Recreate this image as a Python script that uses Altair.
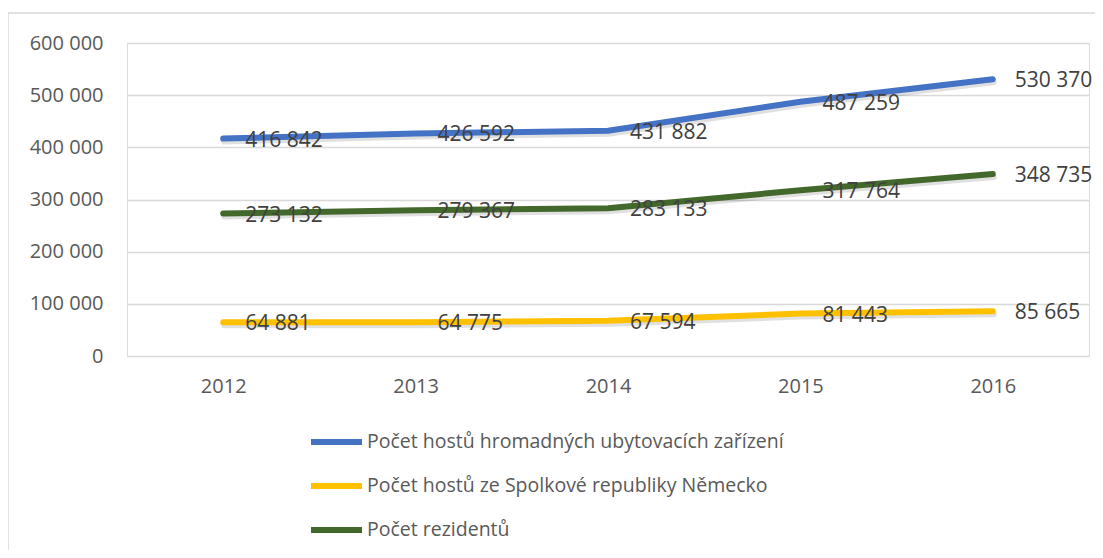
import altair as alt
import pandas as pd

years = ["2012", "2013", "2014", "2015", "2016"]
series_names = [
    "Počet hostů hromadných ubytovacích zařízení",
    "Počet hostů  ze Spolkové republiky Německo",
    "Počet rezidentů",
]
hosts_total = [416842, 426592, 431882, 487259, 530370]
hosts_germany = [64881, 64775, 67594, 81443, 85665]
residents = [273132, 279367, 283133, 317764, 348735]
colors = ["#4472C4", "#FFC000", "#43682B"]

rows = []
for name, vals in zip(series_names, [hosts_total, hosts_germany, residents]):
    for y, v in zip(years, vals):
        rows.append({"year": y, "series": name, "value": v})
df = pd.DataFrame(rows)

FONT = "Open Sans"

x_enc = alt.X(
    "year:N",
    scale=alt.Scale(paddingInner=0, paddingOuter=0),
    axis=alt.Axis(
        title=None, domain=False, ticks=False, grid=False, labelAngle=0,
        labelPadding=20, labelFontSize=20, labelColor="#595959", labelFont=FONT,
    ),
)
y_enc = alt.Y(
    "value:Q",
    scale=alt.Scale(domain=[0, 600000], nice=False),
    axis=alt.Axis(
        title=None, domain=False, ticks=False, values=[0, 100000, 200000, 300000, 400000, 500000, 600000],
        labelExpr="replace(format(datum.value, ','), ',', ' ')",
        labelPadding=24, labelFontSize=20, labelColor="#595959", labelFont=FONT,
        gridColor="#D9D9D9", gridWidth=1.5,
    ),
)
color_enc = alt.Color(
    "series:N",
    scale=alt.Scale(domain=series_names, range=colors),
    sort=series_names,
    legend=alt.Legend(
        title=None, orient="none", legendX=181, legendY=379, direction="vertical",
        symbolType="stroke", symbolSize=2600, symbolStrokeWidth=6,
        labelFontSize=19.5, labelColor="#595959", labelFont=FONT, labelOffset=2,
        rowPadding=4, clipHeight=40, padding=0, labelLimit=800,
    ),
)

base = alt.Chart(df)

shadow = base.mark_line(strokeWidth=6, strokeCap="round", color="#000000", opacity=0.12, yOffset=3, xOffset=1).encode(
    x=x_enc, y=y_enc, detail="series:N"
)
lines = base.mark_line(strokeWidth=6, strokeCap="round").encode(
    x=x_enc, y=y_enc, color=color_enc
)
labels = base.transform_calculate(
    lab="replace(format(datum.value, ','), ',', ' ')"
).mark_text(
    align="left", baseline="middle", dx=22, dy=2, fontSize=21, color="#404040", font=FONT
).encode(x=x_enc, y=y_enc, text="lab:N")

border = alt.Chart(pd.DataFrame({"a": [1]})).mark_rect(
    fill="transparent", stroke="#D9D9D9", strokeWidth=1.5
).encode(x=alt.value(-119), x2=alt.value(1100), y=alt.value(-30), y2=alt.value(700))

chart = alt.layer(border, shadow, lines, labels).properties(
    width=962, height=313,
    autosize=alt.AutoSizeParams(type="none"),
    padding={"left": 119, "top": 35, "right": 6, "bottom": 194},
).configure_view(stroke=None).configure(font=FONT)

chart.save("out.html", embed_options={"renderer": "svg", "actions": False})
